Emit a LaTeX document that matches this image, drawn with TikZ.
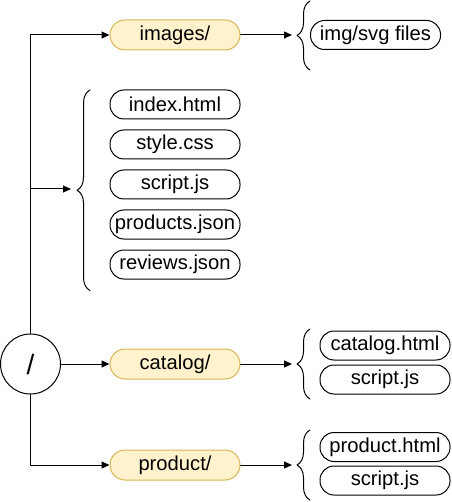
\documentclass[tikz,border=0pt]{standalone}
\usepackage{fontspec}
\setmainfont{Liberation Sans}
\usetikzlibrary{arrows.meta, decorations.pathreplacing}

\definecolor{folderfill}{HTML}{FFF2CC}
\definecolor{folderline}{HTML}{D6B656}

\tikzset{
	file/.style={draw, rounded corners=14pt, minimum width=130pt, minimum height=29pt, inner sep=0pt, font=\fontsize{20.2}{23}\selectfont},
	folder/.style={file, draw=folderline, fill=folderfill, rounded corners=15pt, minimum height=30pt},
	branch/.style={-{Triangle[length=8pt,width=7pt]}},
	curly/.style={decorate, decoration={brace, amplitude=13pt}},
}

\begin{document}
\begin{tikzpicture}[x=1pt, y=-1pt, line width=1pt, line cap=round, line join=round]
		\useasboundingbox (0,0) rectangle (451,502);
		% root
		\node[circle, draw, minimum size=60pt, inner sep=0pt, font=\fontsize{28}{32}\selectfont] (root) at (30.5,364) {/};
		% folders
		\node[folder] (images) at (175,35) {images/};
		\node[folder] (catalog) at (175,364) {catalog/};
		\node[folder] (product) at (175,465) {product/};
		% top level files
		\node[file] (index) at (175,104.5) {index.html};
		\node[file] (style) at (175,144.5) {style.css};
		\node[file] (script) at (175,184.5) {script.js};
		\node[file] (products) at (175,224.5) {products.json};
		\node[file] (reviews) at (175,264.5) {reviews.json};
		% folder contents
		\node[file] (imgfiles) at (375.5,35) {img/svg files};
		\node[file] (cathtml) at (385,345.5) {catalog.html};
		\node[file] (catjs) at (385,379.5) {script.js};
		\node[file] (prodhtml) at (385,447) {product.html};
		\node[file] (prodjs) at (385,480.5) {script.js};
		% braces
		\draw [curly] (310,70) -- (310,1);
		\draw [curly] (90,290.5) -- (90,90);
		\draw [curly] (310,399) -- (310,329);
		\draw [curly] (310,500) -- (310,430);
		\coordinate (imgtip) at (292,35);
		\coordinate (pagetip) at (71,189);
		\coordinate (cattip) at (292,364);
		\coordinate (prodtip) at (292,465);
		\coordinate (split) at (30.5,189);
		% connectors
		\draw [branch] (root.north) |- (images.west);
		\draw [branch] (split) -- (pagetip);
		\draw [branch] (root.east) -- (catalog.west);
		\draw [branch] (root.south) |- (product.west);
		\draw [branch] (images.east) -- (imgtip);
		\draw [branch] (catalog.east) -- (cattip);
		\draw [branch] (product.east) -- (prodtip);
\end{tikzpicture}
\end{document}
